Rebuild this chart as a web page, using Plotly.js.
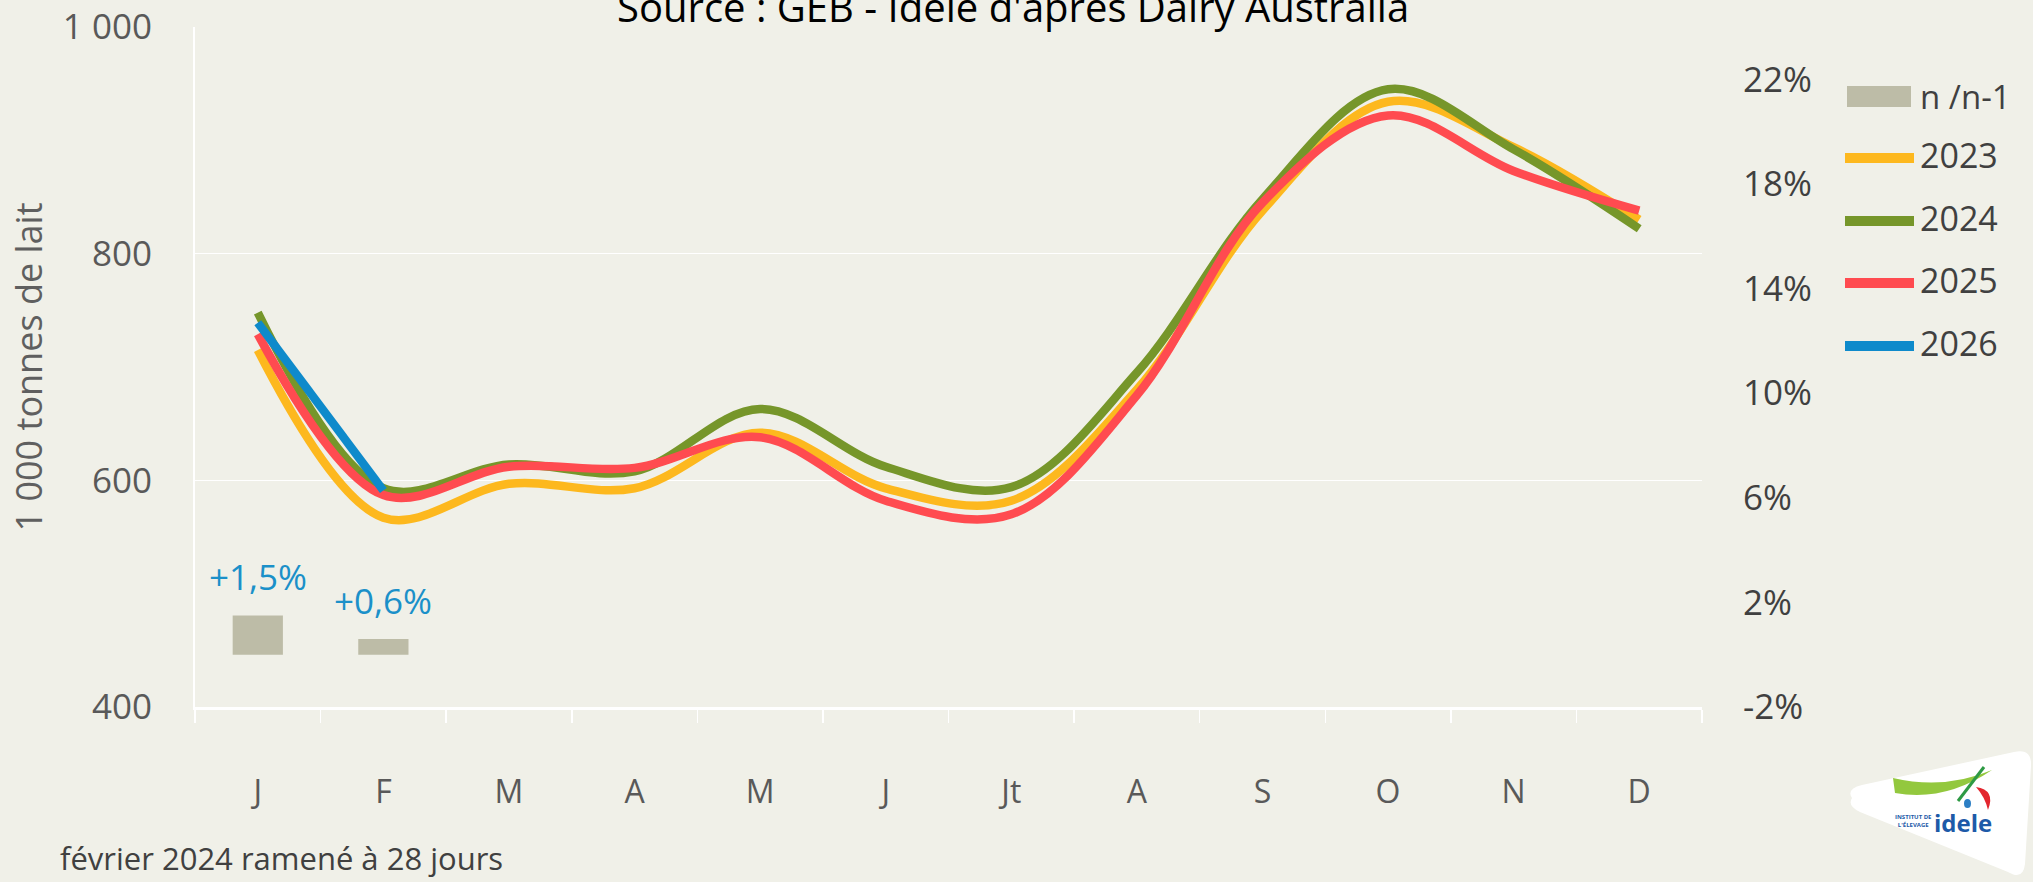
<!DOCTYPE html>
<html><head><meta charset="utf-8">
<script src="https://cdn.plot.ly/plotly-3.0.1.min.js"></script>
<style>html,body{margin:0;padding:0;background:#F0F0E8;} #chart{width:2033px;height:882px;}</style>
</head><body><div id="chart"></div>
<script>
// ---------- data ----------
const months = ["J","F","M","A","M","J","Jt","A","S","O","N","D"];
const seriesNames = ["2023","2024","2025","2026"];
const v2023 = [715,567,597,593,642,593,582,680,838,934,894,830];
const v2024 = [748,593,614,608,663,612,594,695,848,945,892,822];
const v2025 = [729,587,612,611,638,582,570,675,845,922,873,838];
const v2026 = [739,591];
const yoyName = "n /n-1";
const yoyMonthIdx = [0,1];
const yoy = [0.015,0.006];
const yoyLabels = ["+1,5%","+0,6%"];
const leftTickVals = [400,600,800,1000];
const leftTickText = ["400","600","800","1 000"];
const rightTickVals = [-0.02,0.02,0.06,0.10,0.14,0.18,0.22];
const rightTickText = ["-2%","2%","6%","10%","14%","18%","22%"];
const titleText = "Source : GEB - Idele d'après Dairy Australia";
const yTitle = "1 000 tonnes de lait";
const footnote = "février 2024 ramené à 28 jours";

// ---------- style ----------
const lineColors = ["#FDB81E","#76962A","#FF4B50","#0E8ACB"];
const barColor = "#BDBCA7";
const labelBlue = "#1B90C9";
const bg = "#F0F0E8";
const FONT = "Open Sans, Noto Sans, sans-serif";

const W = 2033, H = 882;
const L = 195, R = 331, T = 27, B = 175;
const PW = W - L - R, PH = H - T - B;
const px = x => (x - L) / PW;
const py = y => (H - B - y) / PH;

const xi = months.map((_, i) => i);
const values = [v2023, v2024, v2025, v2026];

const traces = [];
traces.push({
  type: "bar", x: yoyMonthIdx, y: yoy, yaxis: "y2", name: yoyName,
  marker: {color: barColor}, width: 0.4, hoverinfo: "skip", showlegend: false
});
values.forEach((vals, k) => {
  traces.push({
    type: "scatter", mode: "lines", name: seriesNames[k],
    x: xi.slice(0, vals.length), y: vals,
    line: {color: lineColors[k], width: 8.5, shape: "spline", smoothing: 1},
    showlegend: false
  });
});

// ---------- annotations ----------
const annotations = [];
yoy.forEach((v, i) => {
  annotations.push({
    x: yoyMonthIdx[i], y: v, xref: "x", yref: "y2", text: yoyLabels[i],
    showarrow: false, yanchor: "middle", xanchor: "center", yshift: 39,
    font: {family: FONT, size: 35, color: labelBlue}
  });
});
annotations.push({
  x: px(1013), y: py(36), xref: "paper", yref: "paper", text: titleText,
  showarrow: false, xanchor: "center", yanchor: "bottom",
  font: {family: FONT, size: 40, color: "#000"}
});
annotations.push({
  x: px(58), y: py(858), xref: "paper", yref: "paper", text: footnote,
  showarrow: false, xanchor: "left", yanchor: "middle",
  font: {family: FONT, size: 31, color: "#404040"}
});

// ---------- custom legend ----------
const shapes = [];
const legX0 = 1845, legX1 = 1914, legTextX = 1918;
shapes.push({type: "rect", xref: "paper", yref: "paper",
  x0: px(legX0 + 2), x1: px(legX1 - 3), y0: py(86), y1: py(107),
  fillcolor: barColor, line: {width: 0}});
annotations.push({x: px(legTextX), y: py(97), xref: "paper", yref: "paper", text: yoyName,
  showarrow: false, xanchor: "left", yanchor: "middle",
  font: {family: FONT, size: 33, color: "#404040"}});
const legY = [158, 221, 283, 346];
seriesNames.forEach((n, k) => {
  shapes.push({type: "line", xref: "paper", yref: "paper",
    x0: px(legX0), x1: px(legX1), y0: py(legY[k]), y1: py(legY[k]),
    line: {color: lineColors[k], width: 10}});
  annotations.push({x: px(legTextX), y: py(legY[k] - 3), xref: "paper", yref: "paper", text: n,
    showarrow: false, xanchor: "left", yanchor: "middle",
    font: {family: FONT, size: 34, color: "#404040"}});
});

// ---------- logo ----------
function pathP(cmds) {
  return cmds.map(c => {
    if (typeof c === "string") return c;
    return px(c[0]).toFixed(5) + "," + py(c[1]).toFixed(5);
  }).join(" ");
}
shapes.push({type: "path", xref: "paper", yref: "paper", layer: "above",
  path: pathP(["M",[1852,798],"Q",[1846,789],[1862,785],"L",[2014,752],"Q",[2032,748],[2031,766],
    "L",[2025,864],"Q",[2023,881],[2008,872],"L",[1860,812],"Q",[1847,806],[1852,798],"Z"]),
  fillcolor: "#FFFFFF", line: {width: 0}});
shapes.push({type: "path", xref: "paper", yref: "paper",
  path: pathP(["M",[1893,778],"Q",[1945,790],[1992,770],"Q",[1945,802],[1895,793],"Z"]),
  fillcolor: "#93C83E", line: {width: 0}});
shapes.push({type: "line", xref: "paper", yref: "paper",
  x0: px(1958), y0: py(801), x1: px(1984), y1: py(767),
  line: {color: "#2E9A44", width: 3}});
shapes.push({type: "path", xref: "paper", yref: "paper",
  path: pathP(["M",[1976,787],"Q",[1996,790],[1988,810],"Q",[1985,797],[1976,787],"Z"]),
  fillcolor: "#E3262E", line: {width: 0}});
shapes.push({type: "circle", xref: "paper", yref: "paper",
  x0: px(1964), x1: px(1971), y0: py(808), y1: py(799),
  fillcolor: "#2C7FC4", line: {width: 0}});
annotations.push({x: px(1913), y: py(821), xref: "paper", yref: "paper",
  text: "<b>INSTITUT DE<br>L'ÉLEVAGE</b>", showarrow: false, xanchor: "center", yanchor: "middle",
  font: {family: FONT, size: 6, color: "#1D5AA8"}});
annotations.push({x: px(1963), y: py(822), xref: "paper", yref: "paper",
  text: "<b>idele</b>", showarrow: false, xanchor: "center", yanchor: "middle",
  font: {family: FONT, size: 24, color: "#1D5AA8"}});

const layout = {
  width: W, height: H,
  margin: {l: L, r: R, t: T, b: B, pad: 0},
  paper_bgcolor: bg, plot_bgcolor: bg,
  showlegend: false,
  xaxis: {
    range: [-0.5, months.length - 0.5], tickmode: "array", tickvals: xi, ticktext: months,
    showgrid: false, zeroline: false, showline: true, linecolor: "#FFFFFF", linewidth: 3,
    ticks: "", ticklabelstandoff: 55,
    minor: {tick0: -0.5, dtick: 1, ticks: "outside", ticklen: 13, tickwidth: 1.5, tickcolor: "#FFFFFF", showgrid: false},
    tickfont: {family: FONT, size: 32, color: "#595959"}, fixedrange: true
  },
  yaxis: {
    range: [400, 1000], tickmode: "array", tickvals: leftTickVals, ticktext: leftTickText,
    showgrid: true, gridcolor: "#FFFFFF", gridwidth: 1.5, zeroline: false,
    showline: true, linecolor: "#FFFFFF", linewidth: 2, ticks: "", ticklabelstandoff: 34,
    tickfont: {family: FONT, size: 35, color: "#595959"},
    title: {text: yTitle, standoff: 9, font: {family: FONT, size: 36, color: "#5F5F5F"}}
  },
  yaxis2: {
    overlaying: "y", side: "right", range: [-0.02, 0.24], tickmode: "array",
    tickvals: rightTickVals, ticktext: rightTickText, showgrid: false, zeroline: false,
    showline: false, ticks: "", ticklabelstandoff: 40,
    tickfont: {family: FONT, size: 35, color: "#404040"}
  },
  annotations: annotations,
  shapes: shapes,
  font: {family: FONT}
};

Plotly.newPlot("chart", traces, layout, {displayModeBar: false, staticPlot: true});
</script>
</body></html>
